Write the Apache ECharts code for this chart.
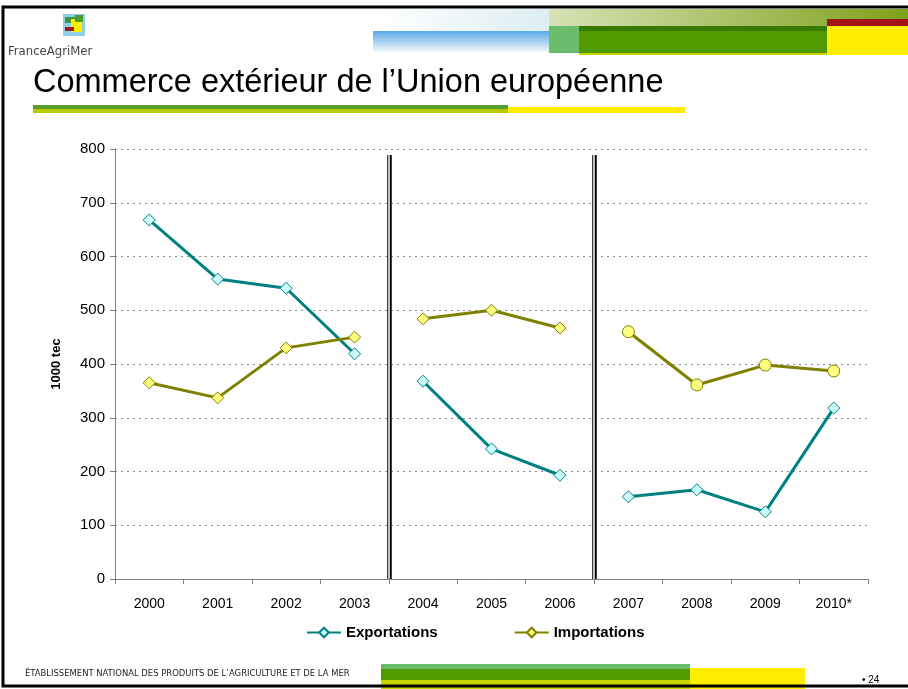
<!DOCTYPE html>
<html>
<head>
<meta charset="utf-8">
<script src="https://cdn.jsdelivr.net/npm/echarts@6/dist/echarts.min.js"></script>
<style>
html, body { margin: 0; padding: 0; background: #fff; }
#chart { width: 908px; height: 689px; }
</style>
</head>
<body>
<div id="chart"></div>
<script>
// données (1000 tec)
const years = ['2000', '2001', '2002', '2003', '2004', '2005', '2006', '2007', '2008', '2009', '2010*']
const exportations = [668, 558, 541, 419, 368, 242, 193, 153, 166, 125, 318]
const importations = [365, 337, 430, 450, 484, 500, 467, 460, 361, 398, 387]
// périodes séparées par un double trait
const periods = [[0, 3], [4, 6], [7, 10]]
const breaks = [4, 7]

const FONT = 'Liberation Sans, Arial, sans-serif'
const NARROW = '"Liberation Sans Narrow", "DejaVu Sans Condensed", sans-serif'

function segment (values, from, to) {
  return values.map((v, i) => (i >= from && i <= to ? v : null))
}

const series = []
periods.forEach(function (p, k) {
  series.push({
    name: 'Exportations',
    type: 'line',
    data: segment(exportations, p[0], p[1]),
    symbol: 'diamond',
    symbolSize: 12,
    lineStyle: { color: '#008080', width: 3 },
    itemStyle: { color: '#ccffff', borderColor: '#008080', borderWidth: 1 },
    z: 3
  })
  series.push({
    name: 'Importations',
    type: 'line',
    data: segment(importations, p[0], p[1]),
    symbol: k === 2 ? 'circle' : 'diamond',
    symbolSize: 12,
    lineStyle: { color: '#808000', width: 3 },
    itemStyle: { color: '#ffff80', borderColor: '#808000', borderWidth: 1 },
    z: 3
  })
})

// double trait vertical entre les périodes
function sepLine (color, width) {
  return {
    type: 'line',
    xAxisIndex: 1,
    data: [],
    silent: true,
    markLine: {
      silent: true,
      symbol: 'none',
      animation: false,
      label: { show: false },
      lineStyle: { color: color, width: width, type: 'solid' },
      data: breaks.map(b => [{ coord: [b, 0] }, { coord: [b, 789] }])
    },
    z: 4
  }
}
series.push(sepLine('#000', 4.5))
series.push(sepLine('#fff', 1.5))

const myChart = echarts.init(document.getElementById('chart'))
const option = {
  animation: false,
  backgroundColor: '#fff',
  textStyle: { fontFamily: FONT },
  grid: { left: 115, right: 40, top: 149, bottom: 110 },
  legend: {
    data: ['Exportations', 'Importations'],
    left: 301,
    top: 620,
    itemWidth: 34,
    itemHeight: 12,
    itemGap: 76,
    textStyle: { fontFamily: FONT, fontSize: 15, fontWeight: 'bold', color: '#000' }
  },
  xAxis: [
    {
      type: 'category',
      data: years,
      axisLine: { lineStyle: { color: '#808080', width: 1 } },
      axisTick: { show: true, length: 5, lineStyle: { color: '#808080' } },
      axisLabel: { color: '#000', fontSize: 14, margin: 18, fontFamily: FONT }
    },
    {
      type: 'value',
      min: 0,
      max: 11,
      show: false
    }
  ],
  yAxis: {
    type: 'value',
    min: 0,
    max: 800,
    interval: 100,
    name: '1000 tec',
    nameLocation: 'middle',
    nameGap: 52,
    nameTextStyle: { fontFamily: FONT, fontSize: 13, fontWeight: 'bold', color: '#000' },
    axisLine: { show: true, lineStyle: { color: '#808080', width: 1 } },
    axisTick: { show: true, length: 5, lineStyle: { color: '#808080' } },
    axisLabel: { color: '#000', fontSize: 15, margin: 10, fontFamily: FONT },
    splitLine: { lineStyle: { color: '#8c8c8c', type: [2, 4], width: 1 } }
  },
  graphic: [
    // cadre
    { type: 'rect', shape: { x: 3, y: 7, width: 910, height: 679 }, style: { fill: 'none', stroke: '#000', lineWidth: 3 }, z: 100 },
    // bandeau haut
    { type: 'rect', shape: { x: 373, y: 9, width: 176, height: 22 },
      style: { fill: new echarts.graphic.LinearGradient(0, 0, 1, 0, [{ offset: 0, color: 'rgba(255,255,255,1)' }, { offset: 1, color: '#dcEEF2' }]) } },
    { type: 'rect', shape: { x: 373, y: 31, width: 176, height: 21 },
      style: { fill: new echarts.graphic.LinearGradient(0, 0, 0, 1, [{ offset: 0, color: '#5aa9e6' }, { offset: 1, color: '#f2f8fc' }]) } },
    { type: 'rect', shape: { x: 549, y: 9, width: 359, height: 17 },
      style: { fill: new echarts.graphic.LinearGradient(0, 0, 1, 0, [{ offset: 0, color: '#d8e2b6' }, { offset: 1, color: '#7ca21a' }]) } },
    { type: 'rect', shape: { x: 827, y: 19, width: 81, height: 7 }, style: { fill: '#a0141a' } },
    { type: 'rect', shape: { x: 549, y: 26, width: 30, height: 27 }, style: { fill: '#6bbd6b' } },
    { type: 'rect', shape: { x: 579, y: 53, width: 248, height: 2 }, style: { fill: '#c8d400' } },
    { type: 'rect', shape: { x: 579, y: 26, width: 248, height: 27 }, style: { fill: '#519b00' } },
    { type: 'rect', shape: { x: 579, y: 26, width: 248, height: 5 }, style: { fill: '#367a00' } },
    { type: 'rect', shape: { x: 827, y: 26, width: 81, height: 29 }, style: { fill: '#ffed00' } },
    // logo
    { type: 'rect', shape: { x: 63, y: 14, width: 22, height: 22 }, style: { fill: '#8fd0e8' } },
    { type: 'rect', shape: { x: 65, y: 17, width: 10, height: 6 }, style: { fill: '#3a9a3a' } },
    { type: 'rect', shape: { x: 71, y: 19, width: 11, height: 13 }, style: { fill: '#ffed00' } },
    { type: 'rect', shape: { x: 65, y: 27, width: 9, height: 4 }, style: { fill: '#9b1c1c' } },
    { type: 'rect', shape: { x: 75, y: 15, width: 8, height: 7 }, style: { fill: '#4d9a2a' } },
    { type: 'text', style: { x: 8, y: 58, text: 'FranceAgriMer', fill: '#444', font: '13px ' + NARROW, verticalAlign: 'bottom' } },
    // titre
    { type: 'text', style: { x: 33, y: 67, text: 'Commerce extérieur de l’Union européenne', fill: '#000', font: '32.5px ' + FONT, verticalAlign: 'top' } },
    { type: 'rect', shape: { x: 33, y: 105, width: 475, height: 4 }, style: { fill: '#5a9e2e' } },
    { type: 'rect', shape: { x: 33, y: 109, width: 475, height: 4 }, style: { fill: '#b9cb00' } },
    { type: 'rect', shape: { x: 508, y: 107, width: 177, height: 6 }, style: { fill: '#ffed00' } },
    // pied de page
    { type: 'text', style: { x: 25, y: 678, text: 'ÉTABLISSEMENT NATIONAL DES PRODUITS DE L’AGRICULTURE ET DE LA MER', fill: '#222', font: '9.4px ' + NARROW, verticalAlign: 'bottom' } },
    { type: 'rect', shape: { x: 381, y: 664, width: 309, height: 5 }, style: { fill: '#6bbd6b' } },
    { type: 'rect', shape: { x: 381, y: 669, width: 309, height: 11 }, style: { fill: '#519b00' } },
    { type: 'rect', shape: { x: 381, y: 680, width: 309, height: 9 }, style: { fill: '#c8d400' } },
    { type: 'rect', shape: { x: 690, y: 668, width: 115, height: 21 }, style: { fill: '#ffed00' } },
    { type: 'text', style: { x: 862, y: 685, text: '• 24', fill: '#000', font: '10px ' + FONT, verticalAlign: 'bottom' } }
  ],
  series: series
}
myChart.setOption(option)
</script>
</body>
</html>
